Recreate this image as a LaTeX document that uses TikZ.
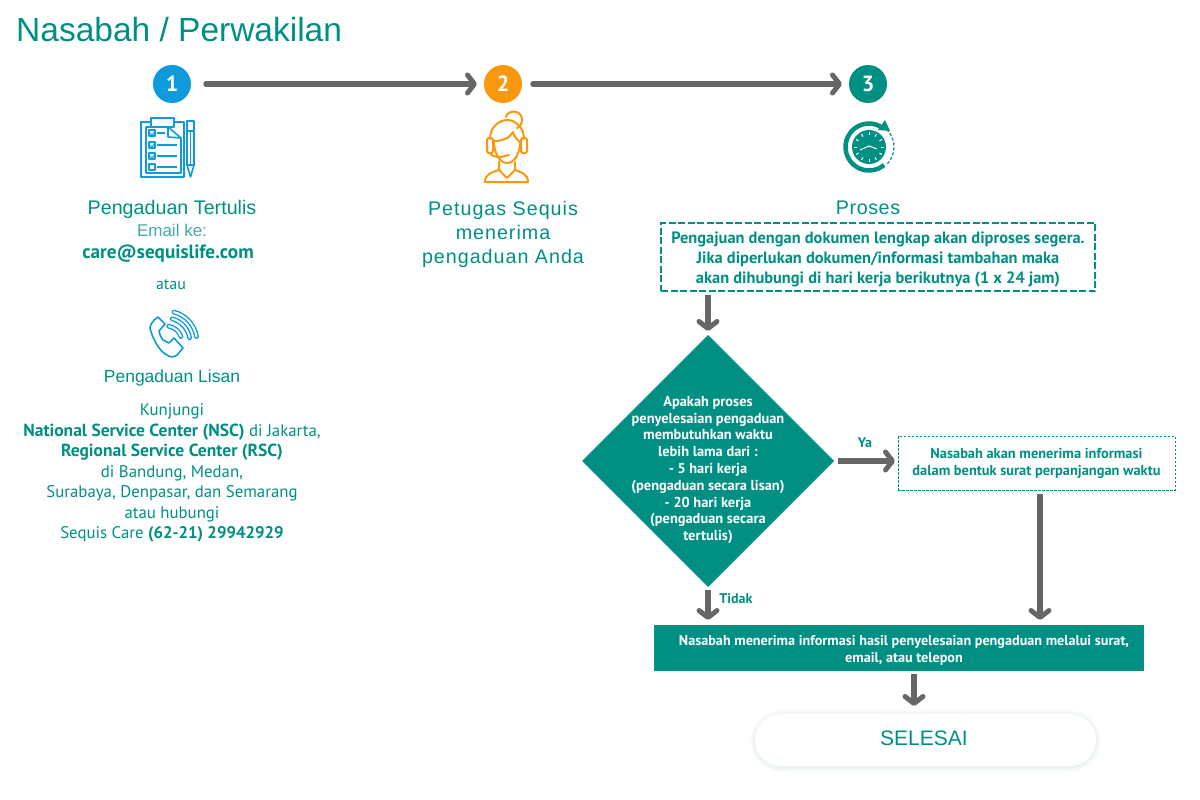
\documentclass[tikz,border=0pt]{standalone}
\usepackage{fontspec}
\setmainfont{PT Sans}
\newfontfamily\headfont{Liberation Sans}
\usepackage{tikz}
\usetikzlibrary{arrows.meta}
\usetikzlibrary{shapes.geometric}
\definecolor{seqteal}{HTML}{008F83}
\definecolor{seqblue}{HTML}{0E9BDC}
\definecolor{seqorange}{HTML}{F9980F}
\definecolor{seqgray}{HTML}{666666}
\definecolor{seqglow}{HTML}{E4EEEE}
\newcommand{\seqsize}[2]{\fontsize{#1}{#2}\selectfont}
\tikzstyle{stepdot}=[circle, inner sep=0, outer sep=0, minimum size=38pt, text=white, font=\seqsize{22}{24}\bfseries]
\tikzstyle{flowarrow}=[draw=seqgray, line width=5.5pt, -{Straight Barb[length=7pt, width=18pt, line width=5pt, round]}]
\tikzstyle{heading}=[text=seqteal, inner sep=0, outer sep=0, align=center, font=\headfont\seqsize{19.7}{24}]
\tikzstyle{bodytext}=[text=seqteal, inner sep=0, outer sep=0, align=center]
\tikzstyle{notebox}=[draw=seqteal, dash pattern=on 7pt off 2.5pt, line width=1.1pt, inner sep=0, outer sep=0, text=seqteal, align=center]
\tikzstyle{bluethin}=[draw=seqblue, line width=1.6pt, line join=round]
\tikzstyle{orangethin}=[draw=seqorange, line width=2pt, line join=round, line cap=round]
\begin{document}
\begin{tikzpicture}[x=1pt, y=-1pt]
        \useasboundingbox (0, 0) rectangle (1200, 800);
        \node[anchor=west, text=seqteal, inner sep=0, font=\headfont\seqsize{33.5}{36}] (title) at (16, 30) {Nasabah / Perwakilan};
        % Numbered steps.
        \node[stepdot, fill=seqblue] (one) at (172, 84) {1};
        \node[stepdot, fill=seqorange] (two) at (503, 84) {2};
        \node[stepdot, fill=seqteal] (three) at (868, 84) {3};
        \draw[flowarrow, line cap=round, shorten <=15pt, shorten >=7pt] (one) -- (two);
        \draw[flowarrow, line cap=round, shorten <=11pt, shorten >=7pt] (two) -- (three);
        % Clipboard icon.
        \draw[bluethin] (141, 122) rectangle (184, 177);
        \draw[bluethin] (146, 127) -- (168, 127) -- (181, 138) -- (181, 173) -- (146, 173) -- cycle;
        \draw[bluethin] (168, 127) -- (168, 137) -- (181, 138);
        \draw[bluethin, fill=white] (151, 118) rectangle (174, 127);
        \foreach \rowy/\rowend in {133/165, 145/177, 156/177, 167/177} {
            \draw[bluethin] (149, \rowy-3) rectangle (155, \rowy+3);
            \draw[bluethin] (157, \rowy) -- (\rowend, \rowy);
        }
        \foreach \rowy in {133, 145, 156} {
            \draw[seqblue, line width=1pt] (150, \rowy) -- (152, \rowy+2) -- (156, \rowy-3);
        }
        \draw[bluethin] (187, 121) rectangle (194, 165);
        \draw[bluethin] (187, 165) -- (190.5, 177) -- (194, 165);
        \draw[bluethin] (187, 131) -- (194, 131);
        \draw[bluethin] (190.5, 131) -- (190.5, 165);
        % Agent icon.
        \draw[orangethin] (506, 117) .. controls (507, 110) and (521, 109) .. (522, 119) .. controls (522, 124) and (520, 127) .. (517, 128);
        \draw[orangethin] (490, 139) .. controls (490, 127) and (499, 120) .. (507, 120) .. controls (516, 120) and (524, 128) .. (524, 139);
        \draw[orangethin] (494, 141) .. controls (502, 141) and (510, 138) .. (513, 132) .. controls (514, 136) and (517, 140) .. (520, 142) .. controls (520, 154) and (514, 163) .. (507, 163) .. controls (500, 163) and (494, 154) .. (494, 141);
        \draw[orangethin, rounded corners=2pt] (487, 138) rectangle (493, 153);
        \draw[orangethin, rounded corners=2pt] (521, 138) rectangle (527, 153);
        \draw[orangethin] (490, 153) .. controls (491, 156) and (496, 157) .. (501, 157) -- (509, 155);
        \draw[orangethin] (499, 162) -- (499, 170) .. controls (492, 172) and (485, 174) .. (485, 182) -- (528, 182) .. controls (528, 174) and (521, 172) .. (515, 170) -- (515, 162);
        \draw[orangethin] (499, 170) -- (507, 178) -- (515, 170);
        % Clock icon.
        \draw[seqteal, line width=4.5pt] (869, 147) ++(-60:23.5) arc[start angle=-60, end angle=-310, radius=23.5];
        \fill[seqteal] (885, 120) -- (890, 131) -- (878, 130) -- cycle;
        \draw[seqteal, line width=1.2pt, dash pattern=on 3pt off 2pt] (869, 147) ++(-45:25) arc[start angle=-45, end angle=45, radius=25];
        \fill[seqteal] (869, 147) circle (17);
        \foreach \tickangle in {0, 30, ..., 330} {
            \draw[white, line width=1pt] (869, 147) ++(\tickangle:12) -- ++(\tickangle:3);
        }
        \draw[white, line width=1pt] (860, 150) -- (869, 146) -- (877, 149);
        % Phone icon.
        \draw[bluethin] (158, 317) -- (165, 324) -- (159, 331) .. controls (160, 335) and (161, 338) .. (163, 340) -- (169, 343) -- (174, 338) -- (183, 348) -- (177, 355) .. controls (173, 358) and (170, 357) .. (167, 355) .. controls (160, 352) and (153, 340) .. (150, 328) .. controls (150, 325) and (153, 320) .. (158, 317) -- cycle;
        \foreach \waver/\wavestart/\waveend in {31/-75/-10, 24/-75/-10, 16/-80/-20} {
            \draw[seqblue, line width=1.4pt, double=white, double distance=2pt, line cap=round] (166, 342) ++(\wavestart:\waver) arc[start angle=\wavestart, end angle=\waveend, radius=\waver];
        }
        % Left column.
        \node[heading] (tertulis) at (172, 209) {Pengaduan Tertulis};
        \node[bodytext, text=seqteal!75!white, font=\headfont\seqsize{17}{20}] (emailke) at (172, 230) {Email ke:};
        \node[bodytext, font=\seqsize{19.2}{22}\bfseries] (email) at (168, 254) {care@sequislife.com};
        \node[bodytext, font=\seqsize{16}{17}] (atau) at (171, 285) {atau};
        \node[heading, font=\headfont\seqsize{17.5}{20}] (lisan) at (172, 378) {Pengaduan Lisan};
        \node[bodytext, font=\seqsize{16.8}{20.5}] (kunjungi) at (172, 473) {Kunjungi\\
            {\seqsize{17.5}{20.5}\textbf{National Service Center (NSC)}} di Jakarta,\\
            {\seqsize{17.5}{20.5}\textbf{Regional Service Center (RSC)}}\\
            di Bandung, Medan,\\
            Surabaya, Denpasar, dan Semarang\\
            atau hubungi\\
            Sequis Care \textbf{(62-21) 29942929}};
        % Middle column.
        \node[heading, font=\headfont\seqsize{19.7}{24}\addfontfeature{LetterSpace=5}] (petugas) at (503, 234) {Petugas Sequis\\menerima\\pengaduan Anda};
        % Right column.
        \node[heading, font=\headfont\seqsize{19.7}{24}\addfontfeature{LetterSpace=3}] (proses) at (868, 208) {Proses};
        \node[notebox, minimum width=434pt, minimum height=68pt] (syarat) at (878, 257) {};
        \node[bodytext, font=\seqsize{16.4}{20}\bfseries] (syarattext) at (878, 259) {Pengajuan dengan dokumen lengkap akan diproses segera.\\Jika diperlukan dokumen/informasi tambahan maka\\akan dihubungi di hari kerja berikutnya (1 x 24 jam)};
        \node[diamond, fill=seqteal, inner sep=0, outer sep=0, minimum width=252pt, minimum height=252pt] (tanya) at (708, 461) {};
        \node[text=white, inner sep=0, align=center, font=\seqsize{14.4}{16.8}\bfseries] (tanyatext) at (708, 470) {Apakah proses\\penyelesaian pengaduan\\membutuhkan waktu\\lebih lama dari :\\- 5 hari kerja\\(pengaduan secara lisan)\\- 20 hari kerja\\(pengaduan secara\\tertulis)};
        \node[notebox, dash pattern=on 2.5pt off 1.5pt, line width=0.9pt, minimum width=277pt, minimum height=54pt, font=\seqsize{14.4}{17}\bfseries] (perpanjang) at (1036.5, 463) {Nasabah akan menerima informasi\\dalam bentuk surat perpanjangan waktu};
        \node[fill=seqteal, inner sep=0, outer sep=0, minimum width=490pt, minimum height=46pt] (hasil) at (899, 648) {};
        \node[text=white, inner sep=0, align=center, font=\seqsize{14.2}{17}\bfseries] (hasiltext) at (904, 650) {Nasabah menerima informasi hasil penyelesaian pengaduan melalui surat,\\email, atau telepon};
        % Finish pill with a soft glow.
        \foreach \glowwidth/\glowtint in {9/25, 6/45, 3/70} {
            \draw[seqglow!\glowtint!white, line width=\glowwidth pt, rounded corners=26pt] (755, 715) rectangle (1096, 767);
        }
        \node[draw=none, fill=white, rounded corners=26pt, inner sep=0, outer sep=0, minimum width=341pt, minimum height=52pt] (selesai) at (925.5, 740) {};
        \node[text=seqteal, inner sep=0, font=\headfont\seqsize{21}{24}] (selesaitext) at (924, 738) {SELESAI};
        % Flow arrows.
        \draw[flowarrow, shorten <=4pt, shorten >=4pt] (syarat.south -| tanya.north) -- (tanya.north);
        \draw[flowarrow, shorten <=4pt, shorten >=3pt] (tanya.east) -- (tanya.east -| perpanjang.west);
        \draw[flowarrow, shorten <=3pt, shorten >=5pt] (tanya.south) -- (tanya.south |- hasil.north);
        \draw[flowarrow, shorten <=4pt, shorten >=5pt] (perpanjang.south -| 1040, 0) -- (hasil.north -| 1040, 0);
        \draw[flowarrow, shorten <=3pt, shorten >=8pt] (hasil.south -| 914, 0) -- (selesai.north -| 914, 0);
        \node[bodytext, font=\seqsize{14}{16}\bfseries] (ya) at (865, 443) {Ya};
        \node[bodytext, font=\seqsize{14}{16}\bfseries] (tidak) at (736, 599) {Tidak};
\end{tikzpicture}
\end{document}
